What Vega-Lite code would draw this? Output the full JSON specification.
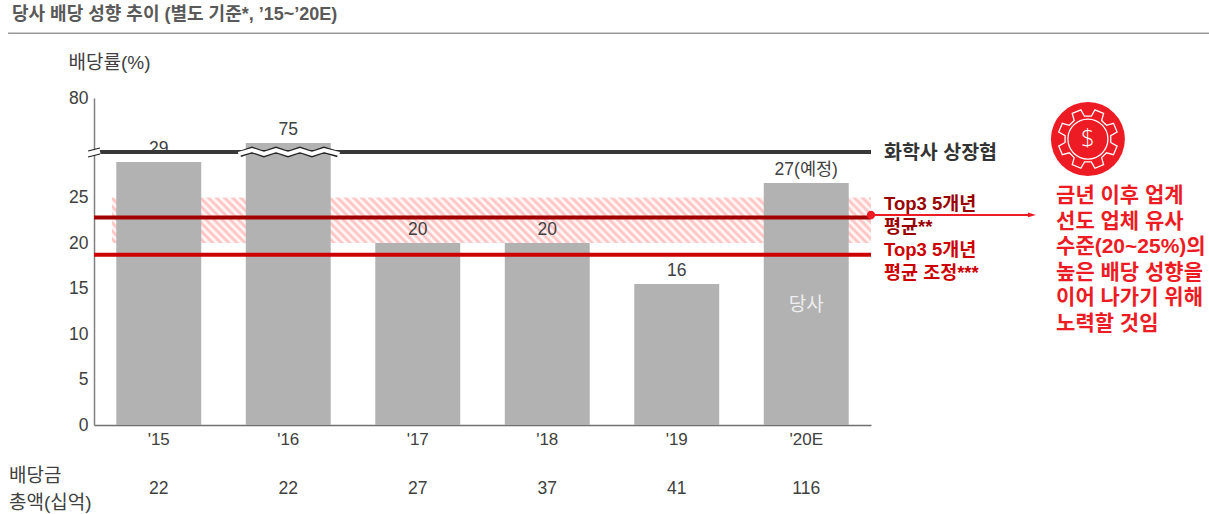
{"$schema":"https://vega.github.io/schema/vega-lite/v6.json","width":777,"height":327,"autosize":{"type":"none"},"padding":{"left":94,"top":98,"right":338,"bottom":89},"background":"white","config":{"font":"Liberation Sans, Noto Sans CJK KR","view":{"stroke":null}},"title":{"text":"당사 배당 성향 추이 (별도 기준*, ’15~’20E)","anchor":"start","frame":"group","dx":-82,"offset":8,"fontSize":18,"fontWeight":"bold","color":"#595959"},"resolve":{"scale":{"x":"independent"},"axis":{"x":"independent"}},"layer":[{"data":{"values":[{"group":"선도 업체 범위","low":20,"high":25}]},"mark":{"type":"rect","fill":{"gradient":"linear","x1":0,"y1":1,"x2":1.06,"y2":0.9371,"stops":[{"offset":0,"color":"#fff"},{"offset":0.005,"color":"#ffbcbc"},{"offset":0.01,"color":"#fff"},{"offset":0.015,"color":"#ffbcbc"},{"offset":0.02,"color":"#fff"},{"offset":0.025,"color":"#ffbcbc"},{"offset":0.03,"color":"#fff"},{"offset":0.035,"color":"#ffbcbc"},{"offset":0.04,"color":"#fff"},{"offset":0.045,"color":"#ffbcbc"},{"offset":0.05,"color":"#fff"},{"offset":0.055,"color":"#ffbcbc"},{"offset":0.06,"color":"#fff"},{"offset":0.065,"color":"#ffbcbc"},{"offset":0.07,"color":"#fff"},{"offset":0.075,"color":"#ffbcbc"},{"offset":0.08,"color":"#fff"},{"offset":0.085,"color":"#ffbcbc"},{"offset":0.09,"color":"#fff"},{"offset":0.095,"color":"#ffbcbc"},{"offset":0.1,"color":"#fff"},{"offset":0.105,"color":"#ffbcbc"},{"offset":0.11,"color":"#fff"},{"offset":0.115,"color":"#ffbcbc"},{"offset":0.12,"color":"#fff"},{"offset":0.125,"color":"#ffbcbc"},{"offset":0.13,"color":"#fff"},{"offset":0.135,"color":"#ffbcbc"},{"offset":0.14,"color":"#fff"},{"offset":0.145,"color":"#ffbcbc"},{"offset":0.15,"color":"#fff"},{"offset":0.155,"color":"#ffbcbc"},{"offset":0.16,"color":"#fff"},{"offset":0.165,"color":"#ffbcbc"},{"offset":0.17,"color":"#fff"},{"offset":0.175,"color":"#ffbcbc"},{"offset":0.18,"color":"#fff"},{"offset":0.185,"color":"#ffbcbc"},{"offset":0.19,"color":"#fff"},{"offset":0.195,"color":"#ffbcbc"},{"offset":0.2,"color":"#fff"},{"offset":0.205,"color":"#ffbcbc"},{"offset":0.21,"color":"#fff"},{"offset":0.215,"color":"#ffbcbc"},{"offset":0.22,"color":"#fff"},{"offset":0.225,"color":"#ffbcbc"},{"offset":0.23,"color":"#fff"},{"offset":0.235,"color":"#ffbcbc"},{"offset":0.24,"color":"#fff"},{"offset":0.245,"color":"#ffbcbc"},{"offset":0.25,"color":"#fff"},{"offset":0.255,"color":"#ffbcbc"},{"offset":0.26,"color":"#fff"},{"offset":0.265,"color":"#ffbcbc"},{"offset":0.27,"color":"#fff"},{"offset":0.275,"color":"#ffbcbc"},{"offset":0.28,"color":"#fff"},{"offset":0.285,"color":"#ffbcbc"},{"offset":0.29,"color":"#fff"},{"offset":0.295,"color":"#ffbcbc"},{"offset":0.3,"color":"#fff"},{"offset":0.305,"color":"#ffbcbc"},{"offset":0.31,"color":"#fff"},{"offset":0.315,"color":"#ffbcbc"},{"offset":0.32,"color":"#fff"},{"offset":0.325,"color":"#ffbcbc"},{"offset":0.33,"color":"#fff"},{"offset":0.335,"color":"#ffbcbc"},{"offset":0.34,"color":"#fff"},{"offset":0.345,"color":"#ffbcbc"},{"offset":0.35,"color":"#fff"},{"offset":0.355,"color":"#ffbcbc"},{"offset":0.36,"color":"#fff"},{"offset":0.365,"color":"#ffbcbc"},{"offset":0.37,"color":"#fff"},{"offset":0.375,"color":"#ffbcbc"},{"offset":0.38,"color":"#fff"},{"offset":0.385,"color":"#ffbcbc"},{"offset":0.39,"color":"#fff"},{"offset":0.395,"color":"#ffbcbc"},{"offset":0.4,"color":"#fff"},{"offset":0.405,"color":"#ffbcbc"},{"offset":0.41,"color":"#fff"},{"offset":0.415,"color":"#ffbcbc"},{"offset":0.42,"color":"#fff"},{"offset":0.425,"color":"#ffbcbc"},{"offset":0.43,"color":"#fff"},{"offset":0.435,"color":"#ffbcbc"},{"offset":0.44,"color":"#fff"},{"offset":0.445,"color":"#ffbcbc"},{"offset":0.45,"color":"#fff"},{"offset":0.455,"color":"#ffbcbc"},{"offset":0.46,"color":"#fff"},{"offset":0.465,"color":"#ffbcbc"},{"offset":0.47,"color":"#fff"},{"offset":0.475,"color":"#ffbcbc"},{"offset":0.48,"color":"#fff"},{"offset":0.485,"color":"#ffbcbc"},{"offset":0.49,"color":"#fff"},{"offset":0.495,"color":"#ffbcbc"},{"offset":0.5,"color":"#fff"},{"offset":0.505,"color":"#ffbcbc"},{"offset":0.51,"color":"#fff"},{"offset":0.515,"color":"#ffbcbc"},{"offset":0.52,"color":"#fff"},{"offset":0.525,"color":"#ffbcbc"},{"offset":0.53,"color":"#fff"},{"offset":0.535,"color":"#ffbcbc"},{"offset":0.54,"color":"#fff"},{"offset":0.545,"color":"#ffbcbc"},{"offset":0.55,"color":"#fff"},{"offset":0.555,"color":"#ffbcbc"},{"offset":0.56,"color":"#fff"},{"offset":0.565,"color":"#ffbcbc"},{"offset":0.57,"color":"#fff"},{"offset":0.575,"color":"#ffbcbc"},{"offset":0.58,"color":"#fff"},{"offset":0.585,"color":"#ffbcbc"},{"offset":0.59,"color":"#fff"},{"offset":0.595,"color":"#ffbcbc"},{"offset":0.6,"color":"#fff"},{"offset":0.605,"color":"#ffbcbc"},{"offset":0.61,"color":"#fff"},{"offset":0.615,"color":"#ffbcbc"},{"offset":0.62,"color":"#fff"},{"offset":0.625,"color":"#ffbcbc"},{"offset":0.63,"color":"#fff"},{"offset":0.635,"color":"#ffbcbc"},{"offset":0.64,"color":"#fff"},{"offset":0.645,"color":"#ffbcbc"},{"offset":0.65,"color":"#fff"},{"offset":0.655,"color":"#ffbcbc"},{"offset":0.66,"color":"#fff"},{"offset":0.665,"color":"#ffbcbc"},{"offset":0.67,"color":"#fff"},{"offset":0.675,"color":"#ffbcbc"},{"offset":0.68,"color":"#fff"},{"offset":0.685,"color":"#ffbcbc"},{"offset":0.69,"color":"#fff"},{"offset":0.695,"color":"#ffbcbc"},{"offset":0.7,"color":"#fff"},{"offset":0.705,"color":"#ffbcbc"},{"offset":0.71,"color":"#fff"},{"offset":0.715,"color":"#ffbcbc"},{"offset":0.72,"color":"#fff"},{"offset":0.725,"color":"#ffbcbc"},{"offset":0.73,"color":"#fff"},{"offset":0.735,"color":"#ffbcbc"},{"offset":0.74,"color":"#fff"},{"offset":0.745,"color":"#ffbcbc"},{"offset":0.75,"color":"#fff"},{"offset":0.755,"color":"#ffbcbc"},{"offset":0.76,"color":"#fff"},{"offset":0.765,"color":"#ffbcbc"},{"offset":0.77,"color":"#fff"},{"offset":0.775,"color":"#ffbcbc"},{"offset":0.78,"color":"#fff"},{"offset":0.785,"color":"#ffbcbc"},{"offset":0.79,"color":"#fff"},{"offset":0.795,"color":"#ffbcbc"},{"offset":0.8,"color":"#fff"},{"offset":0.805,"color":"#ffbcbc"},{"offset":0.81,"color":"#fff"},{"offset":0.815,"color":"#ffbcbc"},{"offset":0.82,"color":"#fff"},{"offset":0.825,"color":"#ffbcbc"},{"offset":0.83,"color":"#fff"},{"offset":0.835,"color":"#ffbcbc"},{"offset":0.84,"color":"#fff"},{"offset":0.845,"color":"#ffbcbc"},{"offset":0.85,"color":"#fff"},{"offset":0.855,"color":"#ffbcbc"},{"offset":0.86,"color":"#fff"},{"offset":0.865,"color":"#ffbcbc"},{"offset":0.87,"color":"#fff"},{"offset":0.875,"color":"#ffbcbc"},{"offset":0.88,"color":"#fff"},{"offset":0.885,"color":"#ffbcbc"},{"offset":0.89,"color":"#fff"},{"offset":0.895,"color":"#ffbcbc"},{"offset":0.9,"color":"#fff"},{"offset":0.905,"color":"#ffbcbc"},{"offset":0.91,"color":"#fff"},{"offset":0.915,"color":"#ffbcbc"},{"offset":0.92,"color":"#fff"},{"offset":0.925,"color":"#ffbcbc"},{"offset":0.93,"color":"#fff"},{"offset":0.935,"color":"#ffbcbc"},{"offset":0.94,"color":"#fff"},{"offset":0.945,"color":"#ffbcbc"},{"offset":0.95,"color":"#fff"},{"offset":0.955,"color":"#ffbcbc"},{"offset":0.96,"color":"#fff"},{"offset":0.965,"color":"#ffbcbc"},{"offset":0.97,"color":"#fff"},{"offset":0.975,"color":"#ffbcbc"},{"offset":0.98,"color":"#fff"},{"offset":0.985,"color":"#ffbcbc"},{"offset":0.99,"color":"#fff"},{"offset":0.995,"color":"#ffbcbc"},{"offset":1,"color":"#fff"}]}},"encoding":{"x":{"datum":-0.361,"type":"quantitative","scale":{"domain":[-0.5,5.5]},"axis":null},"x2":{"datum":5.5},"y":{"field":"low","type":"quantitative","scale":{"domain":[0,30,75,80],"range":[327,54,45,0]},"axis":{"values":[0,5,10,15,20,25,80],"grid":false,"ticks":false,"domainColor":"#808080","domainWidth":1.5,"labelFontSize":17.5,"labelColor":"#404040","labelPadding":6,"title":"배당률(%)","titleAngle":0,"titleAlign":"left","titleBaseline":"middle","titleX":-26,"titleY":-36,"titleFontSize":19,"titleFontWeight":"normal","titleColor":"#404040"}},"y2":{"field":"high"}}},{"data":{"values":[{"year":"'15","payoutRatio":28.9,"label":"29","dividendTotal":22},{"year":"'16","payoutRatio":75,"label":"75","dividendTotal":22},{"year":"'17","payoutRatio":20,"label":"20","dividendTotal":27},{"year":"'18","payoutRatio":20,"label":"20","dividendTotal":37},{"year":"'19","payoutRatio":15.5,"label":"16","dividendTotal":41},{"year":"'20E","payoutRatio":26.6,"label":"27(예정)","dividendTotal":116}]},"encoding":{"x":{"field":"year","type":"nominal","sort":null,"scale":{"paddingInner":0.344,"paddingOuter":0.172},"axis":{"title":null,"ticks":false,"domainColor":"#707070","domainWidth":1.5,"labelAngle":0,"labelFontSize":17,"labelColor":"#404040","labelPadding":6}}},"layer":[{"mark":{"type":"bar","color":"#b2b2b2"},"encoding":{"y":{"field":"payoutRatio","type":"quantitative"}}},{"mark":{"type":"text","baseline":"bottom","dy":-4,"fontSize":17.5,"color":"#404040"},"encoding":{"y":{"field":"payoutRatio","type":"quantitative"},"text":{"field":"label"}}},{"mark":{"type":"text","baseline":"middle","dy":64,"fontSize":17.5,"color":"#404040"},"encoding":{"y":{"datum":0},"text":{"field":"dividendTotal","type":"quantitative"}}},{"transform":[{"filter":"datum.year === \"'20E\""}],"mark":{"type":"text","baseline":"middle","fontSize":19,"color":"#eeeeee"},"encoding":{"y":{"datum":13.2},"text":{"value":"당사"}}}]},{"layer":[{"data":{"values":[{"series":"Top3 5개년 평균","value":22.8},{"series":"Top3 5개년 평균 조정","value":18.7},{"series":"화학사 상장협","value":30}]},"mark":{"type":"rule","strokeWidth":4},"encoding":{"x":{"datum":-0.5,"type":"quantitative","scale":{"domain":[-0.5,5.5]},"axis":null},"x2":{"datum":5.5},"y":{"field":"value","type":"quantitative"},"color":{"field":"series","type":"nominal","legend":null,"scale":{"domain":["Top3 5개년 평균","Top3 5개년 평균 조정","화학사 상장협"],"range":["#a00000","#cc0000","#383838"]}}}},{"data":{"values":[{"pos":0.627,"level":29.78},{"pos":0.72,"level":40},{"pos":0.812,"level":29.78},{"pos":0.905,"level":40},{"pos":0.998,"level":29.78},{"pos":1.09,"level":40},{"pos":1.183,"level":29.78},{"pos":1.276,"level":40},{"pos":1.384,"level":29.78}]},"mark":{"type":"line","stroke":"#222222","strokeWidth":6.5},"encoding":{"x":{"field":"pos","type":"quantitative","axis":null},"y":{"field":"level","type":"quantitative"}}},{"data":{"values":[{"pos":0.615,"level":29.78},{"pos":0.72,"level":40},{"pos":0.812,"level":29.78},{"pos":0.905,"level":40},{"pos":0.998,"level":29.78},{"pos":1.09,"level":40},{"pos":1.183,"level":29.78},{"pos":1.276,"level":40},{"pos":1.396,"level":29.78}]},"mark":{"type":"line","stroke":"#ffffff","strokeWidth":4},"encoding":{"x":{"field":"pos","type":"quantitative","axis":null},"y":{"field":"level","type":"quantitative"}}},{"data":{"values":[{"mark":"break"}]},"mark":{"type":"rule","color":"#ffffff","strokeWidth":5},"encoding":{"x":{"datum":-0.546,"type":"quantitative","axis":null},"x2":{"datum":-0.454},"y":{"datum":29.78},"y2":{"datum":35}}},{"data":{"values":[{"mark":"break"}]},"mark":{"type":"rule","color":"#222222","strokeWidth":1.2},"encoding":{"x":{"datum":-0.546,"type":"quantitative","axis":null},"x2":{"datum":-0.454},"y":{"datum":35},"y2":{"datum":50}}},{"data":{"values":[{"mark":"break"}]},"mark":{"type":"rule","color":"#222222","strokeWidth":1.2},"encoding":{"x":{"datum":-0.546,"type":"quantitative","axis":null},"x2":{"datum":-0.454},"y":{"datum":29.45},"y2":{"datum":29.78}}},{"data":{"values":[{"mark":"header rule"}]},"mark":{"type":"rule","color":"#999999","strokeWidth":1.5},"encoding":{"x":{"datum":-1.164,"type":"quantitative","axis":null},"x2":{"datum":8.11},"y":{"datum":87.2}}},{"data":{"values":[{"mark":"arrow"}]},"mark":{"type":"rule","color":"#ed1c24","strokeWidth":2},"encoding":{"x":{"datum":5.5,"type":"quantitative","axis":null},"x2":{"datum":6.728},"y":{"datum":23.08}}},{"data":{"values":[{"mark":"arrow"}]},"mark":{"type":"point","shape":"circle","filled":true,"opacity":1,"color":"#ed1c24","size":70},"encoding":{"x":{"datum":5.5,"type":"quantitative","axis":null},"y":{"datum":23.08}}},{"data":{"values":[{"mark":"arrow"}]},"mark":{"type":"point","shape":"M-1 -0.6L1 0L-1 0.6Z","filled":true,"opacity":1,"color":"#ed1c24","size":64},"encoding":{"x":{"datum":6.743,"type":"quantitative","axis":null},"y":{"datum":23.08}}},{"data":{"values":[{"t":"화학사 상장협"}]},"mark":{"type":"text","align":"left","baseline":"middle","fontSize":19.5,"fontWeight":"bold","color":"#333333"},"encoding":{"x":{"datum":5.6,"type":"quantitative","axis":null},"y":{"datum":29.9},"text":{"field":"t"}}},{"data":{"values":[{"t":"Top3 5개년\n평균**"}]},"mark":{"type":"text","align":"left","baseline":"middle","lineBreak":"\n","lineHeight":23,"fontSize":18.5,"fontWeight":"bold","color":"#990000"},"encoding":{"x":{"datum":5.6,"type":"quantitative","axis":null},"y":{"datum":24.29},"text":{"field":"t"}}},{"data":{"values":[{"t":"Top3 5개년\n평균 조정***"}]},"mark":{"type":"text","align":"left","baseline":"middle","lineBreak":"\n","lineHeight":23,"fontSize":18.5,"fontWeight":"bold","color":"#cc0000"},"encoding":{"x":{"datum":5.6,"type":"quantitative","axis":null},"y":{"datum":19.23},"text":{"field":"t"}}},{"data":{"values":[{"t":"금년 이후 업계\n선도 업체 유사\n수준(20~25%)의\n높은 배당 성향을\n이어 나가기 위해\n노력할 것임"}]},"mark":{"type":"text","align":"left","baseline":"middle","lineBreak":"\n","lineHeight":25.6,"fontSize":21,"fontWeight":"bold","color":"#ed1c24"},"encoding":{"x":{"datum":6.929,"type":"quantitative","axis":null},"y":{"datum":25.16},"text":{"field":"t"}}},{"data":{"values":[{"t":"배당금\n총액(십억)"}]},"mark":{"type":"text","align":"left","baseline":"middle","lineBreak":"\n","lineHeight":27,"fontSize":19,"color":"#404040"},"encoding":{"x":{"datum":-1.156,"type":"quantitative","axis":null},"y":{"datum":-5.6},"text":{"field":"t"}}},{"data":{"values":[{"icon":"disc"}]},"mark":{"type":"point","shape":"circle","filled":true,"opacity":1,"color":"#ed1c24","size":5476},"encoding":{"x":{"datum":7.175,"type":"quantitative","axis":null},"y":{"datum":75.44}}},{"data":{"values":[{"icon":"gear"}]},"mark":{"type":"point","shape":"M.761 .114L.973 .234L.853 .522L.619 .458L.457 .619L.523 .853L.234 .973L.114 .761L-.114 .761L-.234 .973L-.522 .853L-.458 .619L-.619 .457L-.853 .523L-.973 .234L-.761 .114L-.761 -.114L-.973 -.234L-.853 -.522L-.619 -.458L-.457 -.619L-.523 -.853L-.234 -.973L-.114 -.761L.114 -.761L.234 -.973L.522 -.853L.458 -.619L.619 -.457L.853 -.523L.973 -.234L.761 -.114Z","filled":false,"opacity":1,"color":"#ffffff","strokeWidth":1.3,"size":3600},"encoding":{"x":{"datum":7.175,"type":"quantitative","axis":null},"y":{"datum":75.44}}},{"data":{"values":[{"icon":"ring"}]},"mark":{"type":"point","shape":"circle","filled":false,"opacity":1,"color":"#ffffff","strokeWidth":1.3,"size":1600},"encoding":{"x":{"datum":7.175,"type":"quantitative","axis":null},"y":{"datum":75.44}}},{"data":{"values":[{"t":"$"}]},"mark":{"type":"text","align":"center","baseline":"middle","fontSize":24,"color":"#ffffff","font":"Open Sans","fontWeight":300},"encoding":{"x":{"datum":7.175,"type":"quantitative","axis":null},"y":{"datum":75.44},"text":{"field":"t"}}}]}]}
